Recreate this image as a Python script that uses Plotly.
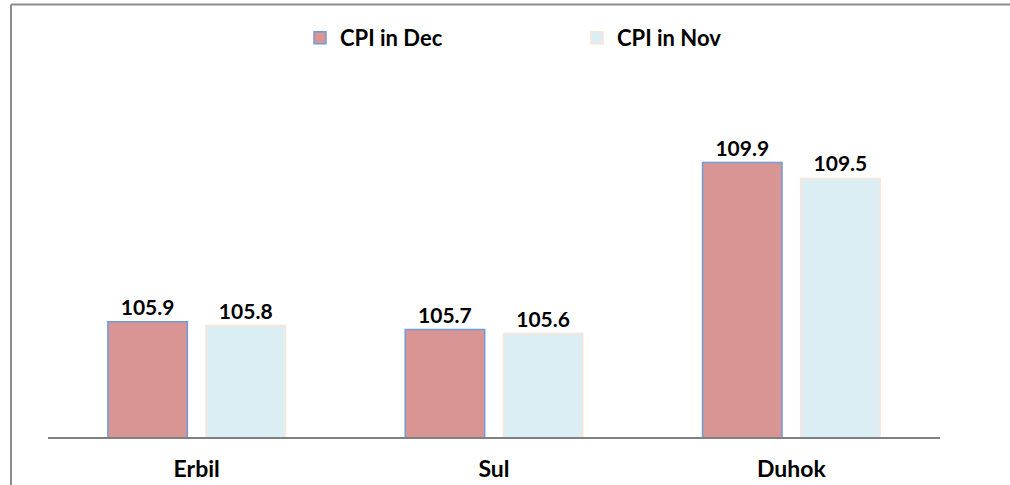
import plotly.graph_objects as go

categories = ["Erbil", "Sul", "Duhok"]
cpi_dec = [105.9, 105.7, 109.9]
cpi_nov = [105.8, 105.6, 109.5]
series_names = ["CPI in Dec", "CPI in Nov"]

FONT = "Lato"

fig = go.Figure()
fig.add_trace(go.Bar(
    x=categories, y=cpi_dec, name=series_names[0],
    marker=dict(color="#D99594", line=dict(color="#6F9BD8", width=1.5)),
    text=[f"{v:.1f}" for v in cpi_dec], textposition="outside",
    textfont=dict(family=FONT, size=21, color="#000000", weight="bold"),
    cliponaxis=False,
))
fig.add_trace(go.Bar(
    x=categories, y=cpi_nov, name=series_names[1],
    marker=dict(color="#DBEEF4", line=dict(color="#FCE4D6", width=1.5)),
    text=[f"{v:.1f}" for v in cpi_nov], textposition="outside",
    textfont=dict(family=FONT, size=21, color="#000000", weight="bold"),
    cliponaxis=False,
))

x_left = (11 - 48) / 892
y_top = (437 - 4.5) / 358

fig.update_layout(
    width=1010, height=485,
    margin=dict(l=48, r=70, t=79, b=48, autoexpand=False),
    paper_bgcolor="white", plot_bgcolor="white",
    barmode="group", bargap=0.34, bargroupgap=0.19,
    showlegend=True,
    legend=dict(
        orientation="h", x=0.2825, xanchor="left", y=1.115, yanchor="middle",
        entrywidth=232, entrywidthmode="pixels",
        font=dict(family=FONT, size=22, color="#000000", weight="bold"),
        bgcolor="rgba(0,0,0,0)",
    ),
    xaxis=dict(
        showline=True, linecolor="#808080", linewidth=2,
        showgrid=False, ticks="outside", ticklen=10, tickcolor="rgba(0,0,0,0)",
        zeroline=False, automargin=False,
        tickfont=dict(family=FONT, size=23, color="#000000", weight="bold"),
    ),
    yaxis=dict(
        range=[103, 112], visible=False, showgrid=False, zeroline=False,
        automargin=False,
    ),
    shapes=[
        dict(type="line", xref="paper", yref="paper",
             x0=x_left, x1=1.2, y0=y_top, y1=y_top,
             line=dict(color="#8C8C8C", width=2), layer="above"),
        dict(type="line", xref="paper", yref="paper",
             x0=x_left, x1=x_left, y0=-0.3, y1=y_top,
             line=dict(color="#8C8C8C", width=2), layer="above"),
    ],
)

fig.write_html(
    "out.html",
    config={"displayModeBar": False},
    post_script="document.body.style.margin='0';document.body.style.overflow='hidden';document.documentElement.style.overflow='hidden';",
)
